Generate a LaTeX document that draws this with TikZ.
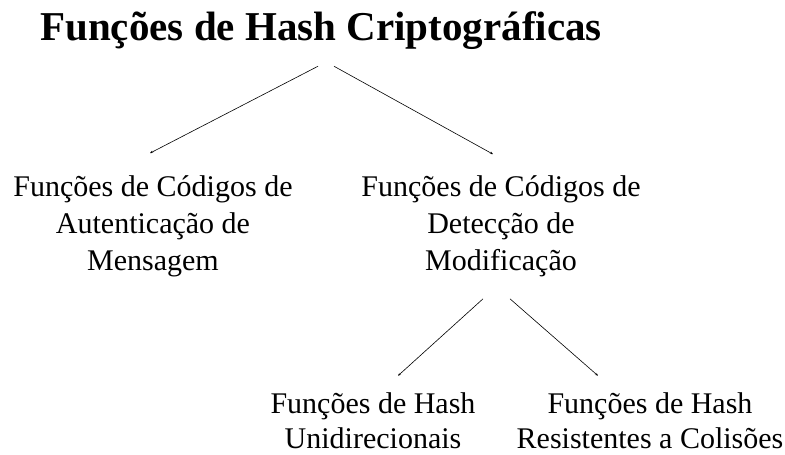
\documentclass[tikz,border=0pt]{standalone}
\usepackage{fontspec}
\setmainfont{Liberation Serif}
\usetikzlibrary{arrows.meta}
\tikzset{
  kind/.style={align=center, inner sep=0pt, font=\fontsize{30}{37}\selectfont},
  link/.style={-{Stealth[length=3pt,width=2.5pt]}, line width=0.6pt}
}
\begin{document}
\begin{tikzpicture}[x=1pt, y=-1pt]
    \useasboundingbox (0,0) rectangle (785,455);

    % Root of the classification
    \node[inner sep=0pt, font=\fontsize{41}{47}\selectfont\bfseries, anchor=base]
      (hash) at (321,40) {Funções de Hash Criptográficas};

    % First level
    \node[kind] (mac) at (153,226) {Funções de Códigos de\\Autenticação de\\Mensagem};
    \node[kind] (mdc) at (501,226) {Funções de Códigos de\\Detecção de\\Modificação};

    % Second level
    \node[kind, font=\fontsize{30}{35}\selectfont] (owhf) at (373,421) {Funções de Hash\\Unidirecionais};
    \node[kind, font=\fontsize{30}{35}\selectfont] (crhf) at (650,421) {Funções de Hash\\Resistentes a Colisões};

    % Connectors
    \draw[link] ([xshift=-3pt, yshift=-17pt]hash.south) -- ([xshift=-3pt, yshift=22pt]mac.north);
    \draw[link] ([xshift=13pt, yshift=-17pt]hash.south) -- ([xshift=-8pt, yshift=21pt]mdc.north);
    \draw[link] ([xshift=-18pt, yshift=-22pt]mdc.south) -- ([xshift=25pt, yshift=17pt]owhf.north);
    \draw[link] ([xshift=9pt, yshift=-22pt]mdc.south) -- ([xshift=-52pt, yshift=17pt]crhf.north);
\end{tikzpicture}
\end{document}
